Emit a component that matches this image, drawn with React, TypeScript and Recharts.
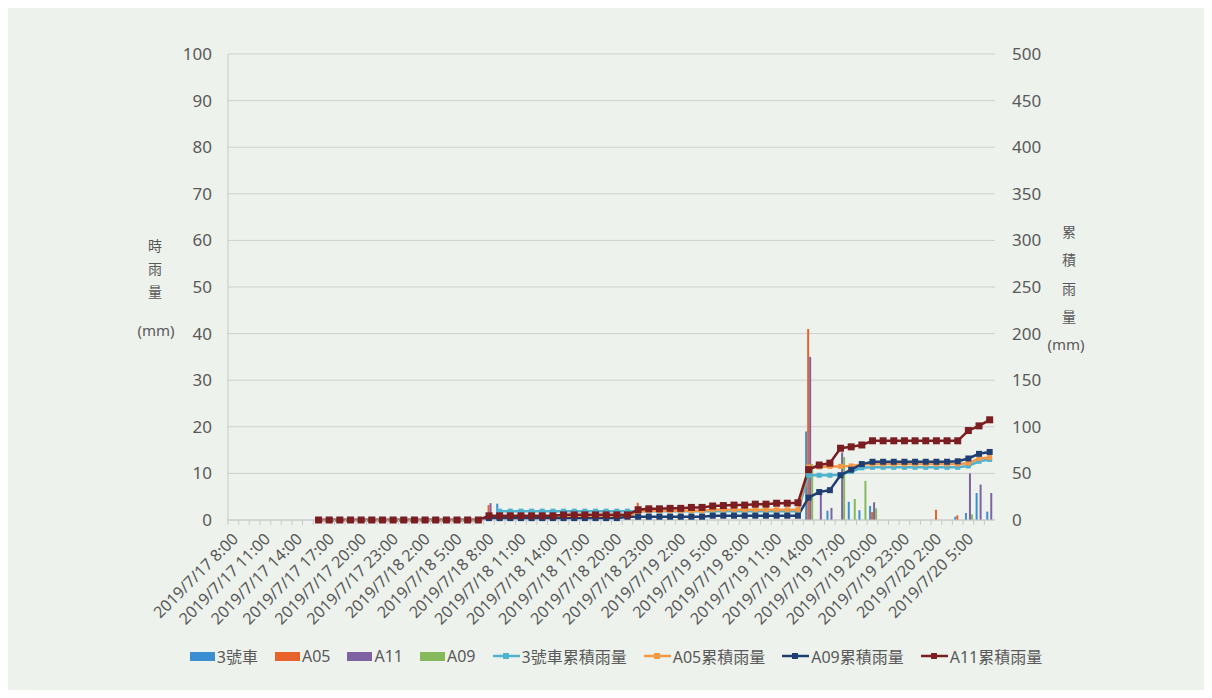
import { ComposedChart, Bar, Line, XAxis, YAxis, CartesianGrid, Legend } from 'recharts'

// hourly timestamps, 2019/7/17 8:00 -> 2019/7/20 7:00
const times = [
  '2019/7/17 8:00', '2019/7/17 9:00', '2019/7/17 10:00', '2019/7/17 11:00', '2019/7/17 12:00', '2019/7/17 13:00',
  '2019/7/17 14:00', '2019/7/17 15:00', '2019/7/17 16:00', '2019/7/17 17:00', '2019/7/17 18:00', '2019/7/17 19:00',
  '2019/7/17 20:00', '2019/7/17 21:00', '2019/7/17 22:00', '2019/7/17 23:00', '2019/7/18 0:00', '2019/7/18 1:00',
  '2019/7/18 2:00', '2019/7/18 3:00', '2019/7/18 4:00', '2019/7/18 5:00', '2019/7/18 6:00', '2019/7/18 7:00',
  '2019/7/18 8:00', '2019/7/18 9:00', '2019/7/18 10:00', '2019/7/18 11:00', '2019/7/18 12:00', '2019/7/18 13:00',
  '2019/7/18 14:00', '2019/7/18 15:00', '2019/7/18 16:00', '2019/7/18 17:00', '2019/7/18 18:00', '2019/7/18 19:00',
  '2019/7/18 20:00', '2019/7/18 21:00', '2019/7/18 22:00', '2019/7/18 23:00', '2019/7/19 0:00', '2019/7/19 1:00',
  '2019/7/19 2:00', '2019/7/19 3:00', '2019/7/19 4:00', '2019/7/19 5:00', '2019/7/19 6:00', '2019/7/19 7:00',
  '2019/7/19 8:00', '2019/7/19 9:00', '2019/7/19 10:00', '2019/7/19 11:00', '2019/7/19 12:00', '2019/7/19 13:00',
  '2019/7/19 14:00', '2019/7/19 15:00', '2019/7/19 16:00', '2019/7/19 17:00', '2019/7/19 18:00', '2019/7/19 19:00',
  '2019/7/19 20:00', '2019/7/19 21:00', '2019/7/19 22:00', '2019/7/19 23:00', '2019/7/20 0:00', '2019/7/20 1:00',
  '2019/7/20 2:00', '2019/7/20 3:00', '2019/7/20 4:00', '2019/7/20 5:00', '2019/7/20 6:00', '2019/7/20 7:00',
]

const hourTicks = [0, 10, 20, 30, 40, 50, 60, 70, 80, 90, 100]
const cumTicks = [0, 50, 100, 150, 200, 250, 300, 350, 400, 450, 500]

// hourly rain (mm)
const rainCar3 = [
  0, 0, 0, 0, 0, 0, 0, 0, 0, 0, 0, 0,
  0, 0, 0, 0, 0, 0, 0, 0, 0, 0, 0, 0,
  0, 3.5, 0, 0, 0, 0, 0, 0, 0, 0, 0, 0,
  0, 0, 0, 0, 0, 0, 0, 0, 0, 0, 0, 0,
  0, 0, 0, 0, 0, 0, 19, 0, 2, 0, 3.9, 2.1,
  3, 0, 0, 0, 0, 0, 0, 0, 0.7, 1.5, 5.8, 1.8,
]
const rainA05 = [
  0, 0, 0, 0, 0, 0, 0, 0, 0, 0, 0, 0,
  0, 0, 0, 0, 0, 0, 0, 0, 0, 0, 0, 0,
  3.2, 0, 0, 0, 0, 0, 0, 0, 0, 0, 0, 0,
  0, 0, 3.7, 0, 0, 0, 0, 0, 0, 0, 0, 0,
  0, 0, 0, 0, 0, 0, 41, 0, 0, 0, 0, 0,
  1.7, 0, 0, 0, 0, 0, 2.2, 0, 1, 0, 0, 0,
]
const rainA11 = [
  0, 0, 0, 0, 0, 0, 0, 0, 0, 0, 0, 0,
  0, 0, 0, 0, 0, 0, 0, 0, 0, 0, 0, 0,
  3.6, 0, 0, 0, 0, 0, 0, 0, 0, 0, 0, 0,
  0, 0, 0, 0, 0, 0, 0, 0, 0, 0, 0, 0,
  0, 0, 0, 0, 0, 0, 35, 5.4, 2.6, 14.5, 0, 0,
  3.8, 0, 0, 0, 0, 0, 0, 0, 0, 10, 7.6, 5.8,
]
const rainA09 = [
  0, 0, 0, 0, 0, 0, 0, 0, 0, 0, 0, 0,
  0, 0, 0, 0, 0, 0, 0, 0, 0, 0, 0, 0,
  0, 0, 0, 0, 0, 0, 0, 0, 0, 0, 0, 0,
  0, 0, 0, 0, 0, 0, 0, 0, 0, 0, 0, 0,
  0, 0, 0, 0, 0, 0, 12, 0, 0, 13.5, 4.5, 8.4,
  2.5, 0, 0, 0, 0, 0, 0, 0, 0, 1.2, 0, 0,
]

// cumulative rain (mm)
const cumCar3 = [
  null, null, null, null, null, null, null, null, null, null, null, null,
  null, null, null, null, null, null, null, null, null, null, null, null,
  null, 9.5, 9.5, 9.5, 9.5, 9.5, 9.5, 9.5, 9.5, 9.5, 9.5, 9.5,
  9.5, 9.5, 9.5, 9.5, 9.5, 9.5, 9.5, 9.5, 9.5, 9.5, 9.5, 9.5,
  9.5, 9.5, 9.5, 9.5, 9.5, 9.5, 48, 48, 48, 48.5, 52, 56,
  56.5, 56.5, 56.5, 56.5, 56.5, 56.5, 56.5, 56.5, 56.5, 58, 63, 65,
]
const cumA05 = [
  null, null, null, null, null, null, null, null, 0, 0, 0, 0,
  0, 0, 0, 0, 0, 0, 0, 0, 0, 0, 0, 0,
  3.5, 3.5, 3.5, 3.5, 3.5, 3.5, 3.5, 3.5, 3.5, 3.5, 3.5, 3.5,
  3.5, 3.5, 9, 10, 10, 10, 10, 10, 10, 11, 11, 11,
  11, 11, 11, 11, 11, 11, 57, 57, 57.5, 57.5, 58, 59.5,
  60, 60, 60, 60, 60, 60, 60, 60, 60, 61, 66, 67,
]
const cumA09 = [
  null, null, null, null, null, null, null, null, 0, 0, 0, 0,
  0, 0, 0, 0, 0, 0, 0, 0, 0, 0, 0, 0,
  2, 2, 2, 2, 2, 2, 2, 2, 2, 2, 2, 2,
  2, 3.5, 3.5, 3.5, 3.5, 3.5, 3.5, 3.5, 3.5, 4.6, 4.6, 4.6,
  4.6, 4.6, 4.6, 4.6, 4.6, 4.6, 24, 30, 32, 48, 54, 60,
  62.5, 62.5, 62.5, 62.5, 62.5, 62.5, 62.5, 62.5, 63, 66, 71, 73,
]
const cumA11 = [
  null, null, null, null, null, null, null, null, 0, 0, 0, 0,
  0, 0, 0, 0, 0, 0, 0, 0, 0, 0, 0, 0,
  4.5, 4.5, 4.5, 4.5, 4.5, 4.5, 4.5, 5.5, 5.5, 5.5, 5.5, 5.5,
  5.5, 5.5, 11, 12, 12, 12.5, 12.5, 13.5, 13.5, 15, 15.5, 16,
  16, 17, 17, 18, 18, 18.5, 54, 59, 61, 77, 78.5, 80.5,
  85, 85, 85, 85, 85, 85, 85, 85, 85, 96, 101, 107.5,
]

const data = times.map((t, i) => ({
  t,
  rainCar3: rainCar3[i],
  rainA05: rainA05[i],
  rainA11: rainA11[i],
  rainA09: rainA09[i],
  cumCar3: cumCar3[i],
  cumA05: cumA05[i],
  cumA09: cumA09[i],
  cumA11: cumA11[i],
}))

const TEXT = '#595959'
const FONT = "'Noto Sans', 'Noto Sans CJK TC', sans-serif"

const C = {
  car3: '#3b8fd0',
  a05: '#e8622c',
  a11: '#7e62a2',
  a09: '#86b85c',
  cumCar3: '#4fb2cf',
  cumA05: '#f49846',
  cumA09: '#1f3f73',
  cumA11: '#7a1e22',
}

const legendItems = [
  { name: '3號車', color: C.car3, kind: 'bar' },
  { name: 'A05', color: C.a05, kind: 'bar' },
  { name: 'A11', color: C.a11, kind: 'bar' },
  { name: 'A09', color: C.a09, kind: 'bar' },
  { name: '3號車累積雨量', color: C.cumCar3, kind: 'line' },
  { name: 'A05累積雨量', color: C.cumA05, kind: 'line' },
  { name: 'A09累積雨量', color: C.cumA09, kind: 'line' },
  { name: 'A11累積雨量', color: C.cumA11, kind: 'line' },
]

const BAND = 767 / 72

function TimeTick({ x, y, payload, index }: any) {
  return (
    <g>
      <line x1={x - BAND / 2} y1={y} x2={x - BAND / 2} y2={y + 5} stroke="#c8c8c8" />
      {index % 3 === 0 && (
        <text
          x={x + 6}
          y={y + 20}
          transform={`rotate(-45, ${x + 6}, ${y + 20})`}
          textAnchor="end"
          fontSize={16}
          fill={TEXT}
          fontFamily={FONT}
        >
          {payload.value}
        </text>
      )}
    </g>
  )
}

function squareDot(size: number, color: string) {
  return (p: any) => {
    if (p.cx == null || p.cy == null || p.value == null) return <g key={p.key} />
    return <rect key={p.key} x={p.cx - size / 2} y={p.cy - size / 2} width={size} height={size} fill={color} />
  }
}

function renderLegend() {
  return (
    <div style={{ display: 'flex', justifyContent: 'center', gap: 17, paddingLeft: 20, fontFamily: FONT, fontSize: 16, color: TEXT }}>
      {legendItems.map((it) => (
        <div key={it.name} style={{ display: 'flex', alignItems: 'center' }}>
          {it.kind === 'bar' ? (
            <span style={{ display: 'inline-block', width: 25, height: 9, background: it.color, marginRight: 2 }} />
          ) : (
            <svg width={27} height={10} style={{ marginRight: 2 }}>
              <line x1={0} y1={5} x2={27} y2={5} stroke={it.color} strokeWidth={2.5} />
              <rect x={10} y={2} width={6} height={6} fill={it.color} />
            </svg>
          )}
          <span>{it.name}</span>
        </div>
      ))}
    </div>
  )
}

function LeftTitle() {
  return (
    <text textAnchor="middle" fill={TEXT} fontFamily={FONT} fontSize={14}>
      <tspan x={147} y={243}>時</tspan>
      <tspan x={147} y={266}>雨</tspan>
      <tspan x={147} y={289}>量</tspan>
      <tspan x={148} y={328} fontSize={15}>(mm)</tspan>
    </text>
  )
}

function RightTitle() {
  return (
    <text textAnchor="middle" fill={TEXT} fontFamily={FONT} fontSize={14}>
      <tspan x={1061} y={229}>累</tspan>
      <tspan x={1061} y={257}>積</tspan>
      <tspan x={1061} y={286}>雨</tspan>
      <tspan x={1061} y={314}>量</tspan>
      <tspan x={1058} y={342} fontSize={15}>(mm)</tspan>
    </text>
  )
}

export default function App() {
  return (
    <div style={{ width: 1196, height: 682, background: '#eef2ed', position: 'relative' }}>
      <ComposedChart
        width={1196}
        height={682}
        data={data}
        margin={{ top: 46, right: 0, bottom: 22, left: 0 }}
        barCategoryGap="18%"
        barGap={0}
      >
        <CartesianGrid yAxisId="h" vertical={false} stroke="#cfcfcf" />
        <XAxis
          dataKey="t"
          interval={0}
          tick={<TimeTick />}
          tickLine={false}
          tickSize={0}
          tickMargin={0}
          height={124}
          stroke="#c8c8c8"
        />
        <YAxis
          yAxisId="h"
          domain={[0, 100]}
          ticks={hourTicks}
          width={220}
          tickLine={false}
          tickSize={0}
          tickMargin={16}
          stroke="#c8c8c8"
          tick={{ fill: TEXT, fontSize: 17, fontFamily: FONT }}
          label={{ content: () => <LeftTitle /> }}
        />
        <YAxis
          yAxisId="c"
          orientation="right"
          domain={[0, 500]}
          ticks={cumTicks}
          width={209}
          axisLine={false}
          tickLine={false}
          tickSize={0}
          tickMargin={17}
          tick={{ fill: TEXT, fontSize: 17, fontFamily: FONT, textAnchor: 'start' }}
          label={{ content: () => <RightTitle /> }}
        />
        <Legend verticalAlign="bottom" content={renderLegend} />
        <Bar yAxisId="h" dataKey="rainCar3" name="3號車" fill={C.car3} isAnimationActive={false} />
        <Bar yAxisId="h" dataKey="rainA05" name="A05" fill={C.a05} isAnimationActive={false} />
        <Bar yAxisId="h" dataKey="rainA11" name="A11" fill={C.a11} isAnimationActive={false} />
        <Bar yAxisId="h" dataKey="rainA09" name="A09" fill={C.a09} isAnimationActive={false} />
        <Line yAxisId="c" dataKey="cumCar3" name="3號車累積雨量" stroke={C.cumCar3} strokeWidth={2.5} dot={squareDot(5, C.cumCar3)} activeDot={false} isAnimationActive={false} />
        <Line yAxisId="c" dataKey="cumA05" name="A05累積雨量" stroke={C.cumA05} strokeWidth={2.5} dot={squareDot(5, C.cumA05)} activeDot={false} isAnimationActive={false} />
        <Line yAxisId="c" dataKey="cumA09" name="A09累積雨量" stroke={C.cumA09} strokeWidth={2.5} dot={squareDot(6, C.cumA09)} activeDot={false} isAnimationActive={false} />
        <Line yAxisId="c" dataKey="cumA11" name="A11累積雨量" stroke={C.cumA11} strokeWidth={2.5} dot={squareDot(7, C.cumA11)} activeDot={false} isAnimationActive={false} />
      </ComposedChart>
    </div>
  )
}
